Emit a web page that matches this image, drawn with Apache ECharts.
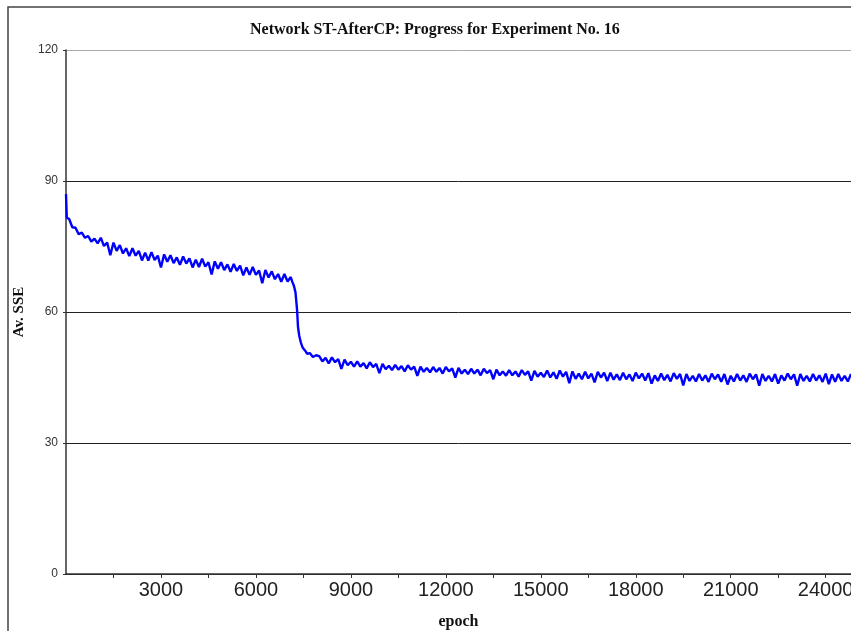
<!DOCTYPE html>
<html>
<head>
<meta charset="utf-8">
<script src="https://cdn.jsdelivr.net/npm/echarts@6/dist/echarts.min.js"></script>
<style>
  html, body { margin: 0; padding: 0; background: #fff; overflow: hidden; }
  #chart { width: 851px; height: 631px; }
</style>
</head>
<body>
<div id="chart"></div>
<script>
// values (noisy band read as alternating highs / lows)
var titleText = 'Network ST-AfterCP: Progress for Experiment No. 16';

var epochs = [
  0, 25,
  100, 200, 300, 400, 500, 600, 700, 800, 900, 1000,
  1100, 1200, 1300, 1400, 1500, 1600, 1700, 1800, 1900, 2000,
  2100, 2200, 2300, 2400, 2500, 2600, 2700, 2800, 2900, 3000,
  3100, 3200, 3300, 3400, 3500, 3600, 3700, 3800, 3900, 4000,
  4100, 4200, 4300, 4400, 4500, 4600, 4700, 4800, 4900, 5000,
  5100, 5200, 5300, 5400, 5500, 5600, 5700, 5800, 5900, 6000,
  6100, 6200, 6300, 6400, 6500, 6600, 6700, 6800, 6900, 7000, 7100,
  7150, 7200, 7250, 7300, 7330, 7370, 7420, 7480, 7550, 7620, 7700, 7800, 7900,
  8000, 8100, 8200, 8300, 8400, 8500, 8600, 8700, 8800, 8900,
  9000, 9100, 9200, 9300, 9400, 9500, 9600, 9700, 9800, 9900,
  10000, 10100, 10200, 10300, 10400, 10500, 10600, 10700, 10800, 10900,
  11000, 11100, 11200, 11300, 11400, 11500, 11600, 11700, 11800, 11900,
  12000, 12100, 12200, 12300, 12400, 12500, 12600, 12700, 12800, 12900,
  13000, 13100, 13200, 13300, 13400, 13500, 13600, 13700, 13800, 13900,
  14000, 14100, 14200, 14300, 14400, 14500, 14600, 14700, 14800, 14900,
  15000, 15100, 15200, 15300, 15400, 15500, 15600, 15700, 15800, 15900,
  16000, 16100, 16200, 16300, 16400, 16500, 16600, 16700, 16800, 16900,
  17000, 17100, 17200, 17300, 17400, 17500, 17600, 17700, 17800, 17900,
  18000, 18100, 18200, 18300, 18400, 18500, 18600, 18700, 18800, 18900,
  19000, 19100, 19200, 19300, 19400, 19500, 19600, 19700, 19800, 19900,
  20000, 20100, 20200, 20300, 20400, 20500, 20600, 20700, 20800, 20900,
  21000, 21100, 21200, 21300, 21400, 21500, 21600, 21700, 21800, 21900,
  22000, 22100, 22200, 22300, 22400, 22500, 22600, 22700, 22800, 22900,
  23000, 23100, 23200, 23300, 23400, 23500, 23600, 23700, 23800, 23900,
  24000, 24100, 24200, 24300, 24400, 24500, 24600, 24700, 24800
];

var avSSE = [
  87.0, 81.6,
  81.3, 79.4, 79.3, 77.8, 78.2, 77.0, 77.4, 76.1, 76.8, 75.7,
  77.0, 75.1, 75.9, 73.0, 75.9, 74.0, 75.3, 73.4, 74.6, 72.8,
  74.6, 72.9, 74.0, 71.8, 73.6, 71.8, 73.7, 71.9, 72.9, 70.2,
  73.2, 71.5, 73.0, 71.2, 72.5, 70.8, 72.7, 71.1, 72.3, 70.2,
  72.0, 70.3, 72.2, 70.4, 71.4, 68.6, 71.6, 69.9, 71.4, 69.6,
  70.9, 69.2, 71.0, 69.4, 70.6, 68.4, 70.2, 68.5, 70.3, 68.5,
  69.5, 66.6, 69.6, 67.9, 69.3, 67.5, 68.7, 66.9, 68.7, 67.0, 68.0,
  66.9, 66.0, 64.5, 60.5, 56.5, 54.5, 53.0, 51.8, 51.2, 50.4, 50.6, 49.7, 50.1,
  49.9, 48.7, 49.5, 48.2, 49.6, 48.5, 49.2, 47.0, 49.1, 47.8,
  48.6, 47.5, 48.7, 47.5, 48.3, 47.1, 48.5, 47.4, 48.1, 46.0,
  48.1, 46.9, 47.7, 46.7, 47.9, 46.8, 47.6, 46.4, 47.8, 46.8,
  47.5, 45.4, 47.5, 46.3, 47.2, 46.2, 47.4, 46.3, 47.2, 45.9,
  47.4, 46.4, 47.1, 45.0, 47.2, 45.9, 46.8, 45.8, 47.0, 45.9,
  46.8, 45.5, 47.0, 46.0, 46.7, 44.6, 46.8, 45.5, 46.4, 45.4,
  46.7, 45.5, 46.4, 45.2, 46.7, 45.6, 46.4, 44.3, 46.5, 45.2,
  46.1, 45.1, 46.6, 45.0, 46.2, 44.7, 46.6, 45.2, 46.3, 43.7,
  46.4, 44.7, 45.9, 44.6, 46.3, 44.8, 45.9, 43.9, 46.3, 45.0,
  46.1, 44.2, 46.1, 44.5, 45.7, 44.4, 46.1, 44.6, 45.7, 44.2,
  46.1, 44.8, 45.9, 44.3, 46.0, 43.6, 45.5, 44.2, 45.9, 44.4,
  45.6, 44.1, 46.0, 44.7, 45.8, 43.2, 45.8, 44.2, 45.4, 44.1,
  45.8, 44.3, 45.5, 44.0, 45.9, 44.6, 45.7, 44.0, 45.8, 43.4,
  45.4, 44.1, 45.8, 44.3, 45.5, 44.0, 45.9, 44.6, 45.7, 43.1,
  45.8, 44.2, 45.4, 44.1, 45.8, 43.6, 45.5, 44.3, 45.9, 44.6,
  45.7, 43.1, 45.8, 44.2, 45.4, 44.1, 45.8, 44.3, 45.5, 44.0,
  45.9, 43.5, 45.7, 44.0, 45.8, 44.2, 45.4, 44.1, 45.8
];

var xTickStep = 1500;
var xLabelStep = 3000;
var yTicks = [0, 30, 60, 90, 120];

var chart = echarts.init(document.getElementById('chart'));

var points = epochs.map(function (e, i) { return [e, avSSE[i]]; });

var serif = '"Liberation Serif", "DejaVu Serif", serif';
var sans = '"Liberation Sans", Arial, sans-serif';

chart.setOption({
  animation: false,
  backgroundColor: '#fff',
  title: {
    text: titleText,
    left: 245,
    top: 17,
    textStyle: { fontFamily: serif, fontWeight: 'bold', fontSize: 16, color: '#111' }
  },
  graphic: [{
    type: 'rect',
    shape: { x: 8, y: 7, width: 900, height: 700 },
    style: { fill: null, stroke: '#444', lineWidth: 1.5 },
    silent: true
  }],
  grid: {
    left: 66, top: 50, width: 785, height: 524,
    containLabel: false,
    outerBoundsMode: 'none'
  },
  xAxis: {
    type: 'value',
    min: 0,
    max: 24800,
    interval: xTickStep,
    name: 'epoch',
    nameLocation: 'middle',
    nameGap: 40,
    nameTextStyle: { fontFamily: serif, fontWeight: 'bold', fontSize: 16, color: '#111' },
    axisLine: { show: true, lineStyle: { color: '#333', width: 1.5 } },
    axisTick: { show: true, length: 4, lineStyle: { color: '#333' } },
    splitLine: { show: false },
    axisLabel: {
      showMaxLabel: false,
      showMinLabel: false,
      hideOverlap: false,
      margin: 6,
      fontFamily: sans,
      fontSize: 20,
      color: '#222',
      formatter: function (v) { return (v > 0 && v % xLabelStep === 0) ? String(v) : ''; }
    }
  },
  yAxis: {
    type: 'value',
    min: yTicks[0],
    max: yTicks[yTicks.length - 1],
    interval: 30,
    name: 'Av. SSE',
    nameLocation: 'middle',
    nameGap: 33,
    nameTextStyle: { fontFamily: serif, fontWeight: 'bold', fontSize: 15, color: '#111' },
    axisLine: { show: true, lineStyle: { color: '#333', width: 1.5 } },
    axisTick: { show: true, length: 3, lineStyle: { color: '#333' } },
    axisLabel: { margin: 8, fontFamily: sans, fontSize: 12, color: '#333' },
    splitLine: {
      show: true,
      lineStyle: { color: ['#222', '#222', '#222', '#222', '#aaa'], width: 1 }
    }
  },
  series: [{
    type: 'line',
    data: points,
    symbol: 'none',
    lineStyle: { color: '#0000ff', width: 2.4 }
  }]
});
</script>
</body>
</html>
